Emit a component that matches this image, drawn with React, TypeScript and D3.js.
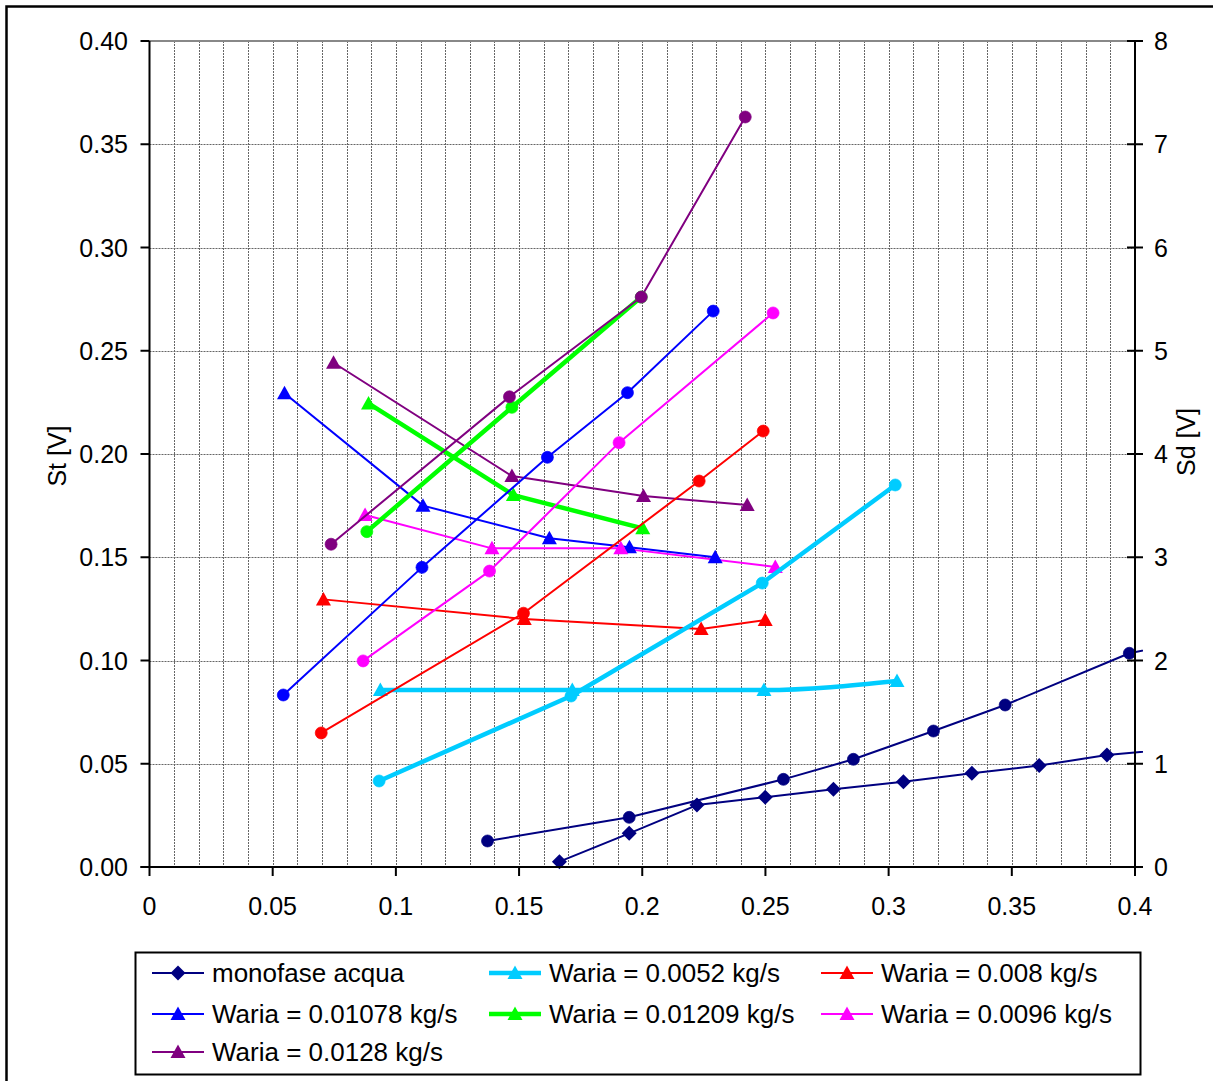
import React from "react";
import * as d3 from "d3";

// ---- data ----
const monoX = [0.1664, 0.1947, 0.2222, 0.2499, 0.2776, 0.306, 0.3338, 0.3611, 0.3886, 0.4161];
const monoSt = [0.0026, 0.0163, 0.03, 0.0338, 0.0376, 0.0413, 0.0454, 0.0491, 0.0542, 0.0572];
const monoCircX = [0.1372, 0.1947, 0.2573, 0.2857, 0.3182, 0.3473, 0.3977, 0.43];
const monoSd = [0.252, 0.481, 0.849, 1.043, 1.317, 1.569, 2.07, 2.23];

const cyanTriX = [0.0937, 0.1716, 0.2494, 0.3034];
const cyanTriSt = [0.0857, 0.0857, 0.0857, 0.0901];
const cyanCircX = [0.0932, 0.1711, 0.2487, 0.3027];
const cyanSd = [0.833, 1.656, 2.75, 3.7];

const redTriX = [0.0706, 0.1521, 0.2239, 0.2499];
const redTriSt = [0.1296, 0.1201, 0.1153, 0.1196];
const redCircX = [0.0697, 0.1518, 0.2231, 0.2491];
const redSd = [1.298, 2.458, 3.738, 4.222];

const blueTriX = [0.0548, 0.111, 0.1623, 0.1948, 0.2296];
const blueTriSt = [0.2294, 0.175, 0.1592, 0.1548, 0.15];
const blueCircX = [0.0543, 0.1106, 0.1615, 0.194, 0.2288];
const blueSd = [1.666, 2.902, 3.968, 4.594, 5.384];

const greenTriX = [0.0889, 0.1477, 0.2002];
const greenTriSt = [0.2245, 0.1801, 0.164];
const greenCircX = [0.0882, 0.1471, 0.1996];
const greenSd = [3.248, 4.452, 5.52];

const magTriX = [0.0875, 0.139, 0.1913, 0.254];
const magTriSt = [0.1705, 0.1543, 0.1543, 0.1453];
const magCircX = [0.0867, 0.138, 0.1906, 0.2531];
const magSd = [1.996, 2.866, 4.11, 5.366];

const purTriX = [0.0747, 0.1471, 0.2005, 0.2426];
const purTriSt = [0.2442, 0.1893, 0.1797, 0.1753];
const purCircX = [0.0737, 0.1461, 0.1996, 0.2418];
const purSd = [3.126, 4.554, 5.52, 7.264];

const xTicks = [0, 0.05, 0.1, 0.15, 0.2, 0.25, 0.3, 0.35, 0.4];
const xTickLabels = ["0", "0.05", "0.1", "0.15", "0.2", "0.25", "0.3", "0.35", "0.4"];
const stTicks = [0, 0.05, 0.1, 0.15, 0.2, 0.25, 0.3, 0.35, 0.4];
const sdTicks = [0, 1, 2, 3, 4, 5, 6, 7, 8];

const legendNames = [
  "monofase acqua",
  "Waria = 0.0052 kg/s",
  "Waria = 0.008 kg/s",
  "Waria = 0.01078 kg/s",
  "Waria = 0.01209 kg/s",
  "Waria = 0.0096 kg/s",
  "Waria = 0.0128 kg/s",
];

type S = { x: number[]; y: number[]; color: string; width: number; marker: string; axis: "st" | "sd"; curve?: string };

const primary: S[] = [
  { x: monoX, y: monoSt, color: "#000080", width: 2, marker: "diamond", axis: "st" },
  { x: cyanTriX, y: cyanTriSt, color: "#00CCFF", width: 4.5, marker: "triangle", axis: "st", curve: "mono" },
  { x: redTriX, y: redTriSt, color: "#FF0000", width: 2, marker: "triangle", axis: "st" },
  { x: blueTriX, y: blueTriSt, color: "#0000FF", width: 2, marker: "triangle", axis: "st" },
  { x: greenTriX, y: greenTriSt, color: "#00FF00", width: 4.5, marker: "triangle", axis: "st" },
  { x: magTriX, y: magTriSt, color: "#FF00FF", width: 2, marker: "triangle", axis: "st" },
  { x: purTriX, y: purTriSt, color: "#800080", width: 2, marker: "triangle", axis: "st" },
];
const secondary: S[] = [
  { x: monoCircX, y: monoSd, color: "#000080", width: 2, marker: "circle", axis: "sd" },
  { x: cyanCircX, y: cyanSd, color: "#00CCFF", width: 4.5, marker: "circle", axis: "sd" },
  { x: redCircX, y: redSd, color: "#FF0000", width: 2, marker: "circle", axis: "sd" },
  { x: blueCircX, y: blueSd, color: "#0000FF", width: 2, marker: "circle", axis: "sd" },
  { x: greenCircX, y: greenSd, color: "#00FF00", width: 4.5, marker: "circle", axis: "sd" },
  { x: magCircX, y: magSd, color: "#FF00FF", width: 2, marker: "circle", axis: "sd" },
  { x: purCircX, y: purSd, color: "#800080", width: 2, marker: "circle", axis: "sd" },
];

const FONT = "'Liberation Sans', Arial, sans-serif";

function Marker({ kind, cx, cy, color }: { kind: string; cx: number; cy: number; color: string }) {
  if (kind === "circle") return <circle cx={cx} cy={cy} r={6} fill={color} stroke={color} strokeOpacity={0.7} strokeWidth={1} />;
  if (kind === "diamond")
    return <path d={`M${cx},${cy - 7.5}L${cx + 7.5},${cy}L${cx},${cy + 7.5}L${cx - 7.5},${cy}Z`} fill={color} />;
  return <path d={`M${cx},${cy - 7.5}L${cx + 7.5},${cy + 6}L${cx - 7.5},${cy + 6}Z`} fill={color} />;
}

export default function App() {
  const L = 149.5, R = 1135, T = 41, B = 867;
  const x = d3.scaleLinear().domain([0, 0.4]).range([L, R]);
  const yst = d3.scaleLinear().domain([0, 0.4]).range([B, T]);
  const ysd = d3.scaleLinear().domain([0, 8]).range([B, T]);
  const gridX = d3.range(1, 40).map((i) => i / 100);

  const renderSeries = (s: S, i: number, pass: "line" | "mark") => {
    const ys = s.axis === "st" ? yst : ysd;
    const pts = s.x.map((v, k) => [x(v), ys(s.y[k])] as [number, number]);
    if (pass === "line") {
      const gen = d3.line().curve(s.curve === "mono" ? d3.curveMonotoneX : d3.curveLinear);
      return <path key={`l${s.axis}${i}`} d={gen(pts) || ""} fill="none" stroke={s.color} strokeWidth={s.width} strokeLinejoin="round" />;
    }
    return (
      <g key={`m${s.axis}${i}`}>
        {pts.filter((p, k) => s.x[k] <= 0.4).map((p, k) => (
          <Marker key={k} kind={s.marker} cx={p[0]} cy={p[1]} color={s.color} />
        ))}
      </g>
    );
  };

  const legendCols = [152, 489, 821];
  const legendRows = [973, 1014, 1052];
  const legendColors = primary.map((s) => s.color);
  const legendWidths = primary.map((s) => s.width);
  const legendMarkers = primary.map((s) => s.marker);

  return (
    <svg width={1213} height={1081} style={{ position: "absolute", left: 0, top: 0, background: "#fff" }} fontFamily={FONT}>
      <rect x={0} y={0} width={1213} height={1081} fill="#fff" />
      <rect x={6.5} y={6.5} width={1230} height={1100} fill="none" stroke="#000" strokeWidth={2.5} />
      <defs>
        <clipPath id="plotclip">
          <rect x={L} y={T - 2} width={1143 - L} height={B - T + 4} />
        </clipPath>
      </defs>
      {/* gridlines */}
      {gridX.map((g) => (
        <line key={`gx${g}`} x1={Math.round(x(g)) + 0.5} x2={Math.round(x(g)) + 0.5} y1={T} y2={B} stroke="#666" strokeWidth={1} strokeDasharray="2,1" />
      ))}
      {stTicks.slice(1, -1).map((t) => (
        <line key={`gy${t}`} x1={L} x2={R} y1={Math.round(yst(t)) + 0.5} y2={Math.round(yst(t)) + 0.5} stroke="#666" strokeWidth={1} strokeDasharray="2,1" />
      ))}
      <line x1={L} x2={R - 6} y1={T} y2={T} stroke="#888" strokeWidth={2} />

      {/* series */}
      <g clipPath="url(#plotclip)">
        {primary.map((s, i) => renderSeries(s, i, "line"))}
      </g>
      {primary.map((s, i) => renderSeries(s, i, "mark"))}
      <g clipPath="url(#plotclip)">
        {secondary.map((s, i) => renderSeries(s, i, "line"))}
      </g>
      {secondary.map((s, i) => renderSeries(s, i, "mark"))}

      {/* axes */}
      <line x1={L} x2={L} y1={T} y2={B + 1} stroke="#000" strokeWidth={2} />
      {stTicks.map((t) => (
        <g key={`st${t}`}>
          <line x1={L - 9} x2={L} y1={yst(t)} y2={yst(t)} stroke="#000" strokeWidth={2} />
          <text x={128} y={yst(t)} dy="0.36em" textAnchor="end" fontSize={25}>{t.toFixed(2)}</text>
        </g>
      ))}
      <line x1={L - 9} x2={R} y1={B} y2={B} stroke="#000" strokeWidth={2} />
      {xTicks.map((t, i) => (
        <g key={`x${t}`}>
          <line x1={x(t)} x2={x(t)} y1={B} y2={B + 9} stroke="#000" strokeWidth={2} />
          <text x={x(t)} y={915} textAnchor="middle" fontSize={25}>{xTickLabels[i]}</text>
        </g>
      ))}
      <line x1={R} x2={R} y1={T} y2={B + 1} stroke="#000" strokeWidth={2} />
      {sdTicks.map((t) => (
        <g key={`sd${t}`}>
          <line x1={R - 8} x2={R + 8} y1={ysd(t)} y2={ysd(t)} stroke="#000" strokeWidth={2} />
          <text x={1154} y={ysd(t)} dy="0.36em" textAnchor="start" fontSize={25}>{t}</text>
        </g>
      ))}
      <text transform={`translate(66,${(T + B) / 2 + 2}) rotate(-90)`} textAnchor="middle" fontSize={25}>St [V]</text>
      <text transform={`translate(1195,442) rotate(-90)`} textAnchor="middle" fontSize={25}>Sd [V]</text>

      {/* legend */}
      <rect x={135.5} y={952.5} width={1005} height={122} fill="#fff" stroke="#000" strokeWidth={2} />
      {legendNames.map((n, i) => {
        const cx = legendCols[i % 3];
        const cy = legendRows[Math.floor(i / 3)];
        return (
          <g key={`lg${i}`}>
            <line x1={cx} x2={cx + 52} y1={cy} y2={cy} stroke={legendColors[i]} strokeWidth={legendWidths[i]} />
            <Marker kind={legendMarkers[i]} cx={cx + 26} cy={cy} color={legendColors[i]} />
            <text x={cx + 60} y={cy} dy="0.36em" fontSize={26}>{n}</text>
          </g>
        );
      })}
    </svg>
  );
}
